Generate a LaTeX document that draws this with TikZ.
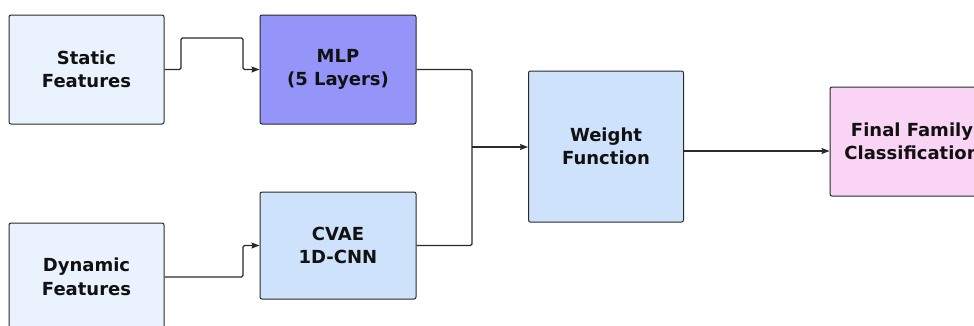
\documentclass[tikz,border=0pt]{standalone}
\usepackage{fontspec}
\setmainfont{DejaVu Sans}
\usetikzlibrary{arrows.meta}
\definecolor{inbox}{HTML}{EAF3FD}
\definecolor{mlpc}{HTML}{9494F9}
\definecolor{midbox}{HTML}{CFE2FB}
\definecolor{pinkc}{HTML}{FAD4F5}
\definecolor{edgec}{HTML}{2A2A2A}
\definecolor{txt}{HTML}{111111}
\begin{document}
\begin{tikzpicture}[x=1pt,y=-1pt,
  blk/.style={draw=edgec,line width=1pt,rounded corners=2pt,inner sep=0pt,
    align=center,text=txt,font=\fontsize{18}{23.5}\selectfont\bfseries},
  conn/.style={draw=edgec,line width=1.2pt,rounded corners=1.5pt},
  arr/.style={conn,-{Stealth[length=8pt,width=6pt,inset=1pt]}}]
\clip (0,0) rectangle (974,325);
\useasboundingbox (0,0) rectangle (974,325);
\fill[white] (0,0) rectangle (974,325);
\node[blk,fill=inbox,minimum width=155pt,minimum height=109pt] (st) at (86.5,69.5) {Static\\Features};
\node[blk,fill=mlpc,minimum width=156pt,minimum height=109pt] (mlp) at (338,69.5) {MLP\\(5 Layers)};
\node[blk,fill=inbox,minimum width=155pt,minimum height=108pt] (dyn) at (86.5,277) {Dynamic\\Features};
\node[blk,fill=midbox,minimum width=156pt,minimum height=107pt] (cvae) at (338,245.5) {CVAE\\1D-CNN};
\node[blk,fill=midbox,minimum width=155pt,minimum height=151pt] (wf) at (606,146.5) {Weight\\Function};
\node[blk,fill=pinkc,minimum width=164pt,minimum height=109pt] (fin) at (912,141.5) {Final Family\\Classification};
\coordinate (j) at (472,147);
\draw[arr] (st.east) -- (181,69.5) -- (181,38) -- (243,38) -- (243,69.5) -- (mlp.west);
\draw[arr] (dyn.east) -- (243,277) -- (243,245.5) -- (cvae.west);
\draw[conn] (mlp.east) -- (472,69.5) -- (j);
\draw[conn] (cvae.east) -- (472,245.5) -- (j);
\draw[arr] (j) -- (wf.west |- j);
\draw[arr] (683,151) -- (fin.west |- 0,151);
\end{tikzpicture}
\end{document}
